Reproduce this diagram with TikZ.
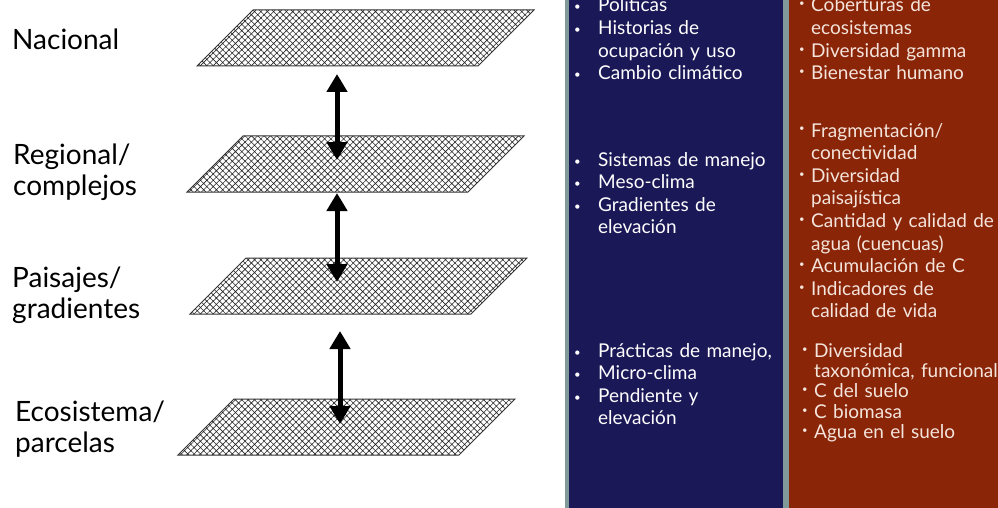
\documentclass[tikz,border=0pt]{standalone}
\usepackage{fontspec}
\setmainfont{Lato}
\usepackage{tikz}
\usetikzlibrary{patterns.meta}
\usetikzlibrary{arrows.meta}
\definecolor{navypanel}{HTML}{1B1857}
\definecolor{rustpanel}{HTML}{8A2507}
\definecolor{edgegray}{HTML}{809A9A}
\definecolor{pinktext}{HTML}{F4E4DC}

\newcommand{\bitem}[1]{\hangindent=24pt\hangafter=1\makebox[24pt][l]{\raisebox{1pt}{\scalebox{0.6}{\textbullet}}}#1\par}
\newcommand{\ritem}[1]{\hangindent=12pt\hangafter=1\makebox[12pt][l]{\raisebox{5pt}{\scalebox{0.5}{\textbullet}}}#1\par}

\begin{document}
\begin{tikzpicture}[x=1pt,y=-1pt,
    layer/.style={draw=black!80,line width=1pt,pattern={Hatch[angle=45,distance=4.5pt,line width=0.6pt]},pattern color=black!85},
    updown/.style={{Triangle[width=20pt,length=18pt]}-{Triangle[width=20pt,length=18pt]},line width=5pt},
    scalelabel/.style={anchor=base west,align=left,inner sep=0pt,font=\fontsize{28}{31}\selectfont},
    bluelist/.style={anchor=base west,text width=215pt,align=left,inner sep=0pt,text=white,font=\fontsize{19}{22.6}\selectfont},
    redlist/.style={anchor=base west,text width=215pt,align=left,inner sep=0pt,text=pinktext,font=\fontsize{19}{22.6}\selectfont}]
    \useasboundingbox (0,0) rectangle (998,508);
    \fill[white] (0,0) rectangle (998,508);
    \clip (0,0) rectangle (998,508);

    % planes
    \foreach \nm/\bx/\by in {nac/197/66, reg/187/192, pai/190/314, eco/178/455}{
        \draw[layer] (\bx,\by) -- ++(281,0) -- ++(56,-56) -- ++(-281,0) -- cycle;
        \coordinate (\nm-b) at (\bx+140,\by);
        \coordinate (\nm-c) at (\bx+168,\by-28);
    }
    \draw[updown] ([yshift=-8pt]nac-b) -- ([yshift=4pt]nac-b |- reg-c);
    \draw[updown] ([yshift=-1pt]nac-b |- reg-b) -- ([yshift=4pt]nac-b |- pai-c);
    \draw[updown] ([xshift=3pt,yshift=-17pt]nac-b |- pai-b) -- ([xshift=3pt,yshift=3pt]nac-b |- eco-c);

    \node[scalelabel] (nacional) at (12,50) {Nacional};
    \node[scalelabel] (regional) at (13,195) {Regional/\\complejos};
    \node[scalelabel] (paisajes) at (12,318) {Paisajes/\\gradientes};
    \node[scalelabel] (ecosistema) at (15,452) {Ecosistema/\\parcelas};

    % panels
    \fill[navypanel] (567,-10) rectangle (786,520);
    \draw[edgegray,line width=4pt] (567,-10) -- (567,520);
    \draw[edgegray,line width=6pt] (786,-10) -- (786,520);
    \fill[rustpanel] (789,-10) rectangle (1000,520);

    \node[bluelist] (drivnac) at (574,12) {\bitem{Políticas}\bitem{Historias de\newline ocupación y uso}\bitem{Cambio climático}};
    \node[bluelist] (drivreg) at (574,166) {\bitem{Sistemas de manejo}\bitem{Meso-clima}\bitem{Gradientes de\newline elevación}};
    \node[bluelist] (driveco) at (574,357) {\bitem{Prácticas de manejo,}\bitem{Micro-clima}\bitem{Pendiente y\newline elevación}};

    \node[redlist] (indnac) at (799,12) {\ritem{Coberturas de\newline ecosistemas}\ritem{Diversidad gamma}\ritem{Bienestar humano}};
    \node[redlist] (indreg) at (799,137) {\ritem{Fragmentación/\newline conectividad}\ritem{Diversidad\newline paisajística}\ritem{Cantidad y calidad de\newline agua (cuencuas)}\ritem{Acumulación de C}\ritem{Indicadores de\newline calidad de vida}};
    \node[redlist,font=\fontsize{19}{20.4}\selectfont] (indeco) at (802,357) {\ritem{Diversidad\newline taxonómica, funcional}\ritem{C del suelo}\ritem{C biomasa}\ritem{Agua en el suelo}};
\end{tikzpicture}
\end{document}
